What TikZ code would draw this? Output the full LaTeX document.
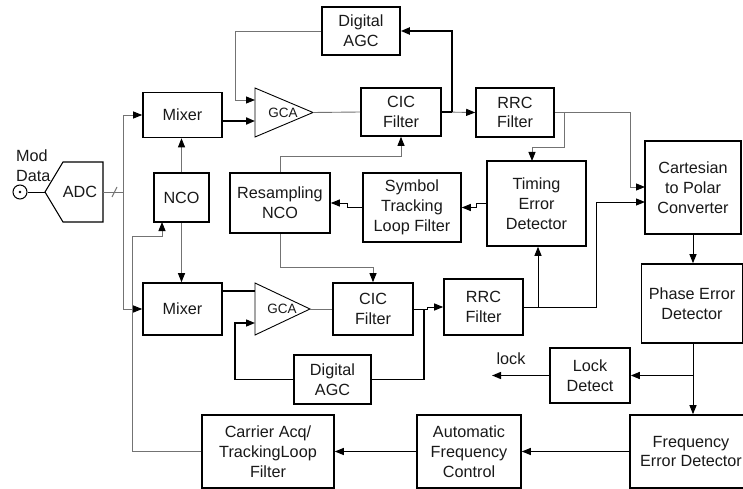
\documentclass[tikz,border=0pt]{standalone}
\usepackage{fontspec}
\setmainfont{Liberation Sans}
\usetikzlibrary{arrows.meta,calc}
\begin{document}
\begin{tikzpicture}[x=1pt,y=-1pt,
 box/.style={draw=black, line width=1.6pt, align=center, inner sep=1pt,
   font=\fontsize{16.2}{19.8}\selectfont, text=black!90},
 gl/.style={draw=black!55, line width=0.9pt},
 bl/.style={draw=black, line width=1pt},
 ml/.style={draw=black, line width=1.4pt},
 tl/.style={draw=black, line width=1.9pt},
 arr/.style={-{Triangle[length=9pt,width=7pt,color=black]}},
 lbl/.style={font=\fontsize{16.2}{19.8}\selectfont, inner sep=0pt, text=black!90},
 gca/.style={draw=black, line width=0.9pt}]
\useasboundingbox (0,0) rectangle (743,489);
\fill[white] (0,0) rectangle (743,489);

% ---------- source and ADC ----------
\node[draw=black, line width=1pt, circle, minimum size=14pt, inner sep=0pt] (src) at (20,192) {};
\fill (src.center) circle (1.3pt);
\node[lbl, align=left, anchor=west] (modl) at (16,166) {Mod\\Data};
\coordinate (adcIn) at (45,192);
\coordinate (adcOut) at (103,192);
\draw[black, line width=1.1pt] (adcIn) -- (63,162) -- (103,162) -- (103,222) -- (63,222) -- cycle;
\node[lbl] (adc) at (80,192) {ADC};
\coordinate (bus) at (123,192);

% ---------- boxes ----------
\node[box, minimum width=78pt, minimum height=48pt] (agcT) at (361,31) {Digital\\AGC};
\node[box, minimum width=79pt, minimum height=45pt] (mixT) at (182.5,115) {Mixer};
\node[box, minimum width=80pt, minimum height=48pt] (cicT) at (401,112) {CIC\\Filter};
\node[box, minimum width=78pt, minimum height=49pt] (rrcT) at (515,112.5) {RRC\\Filter};
\node[box, minimum width=55pt, minimum height=49pt] (nco) at (181.5,197.5) {NCO};
\node[box, minimum width=100pt, minimum height=60pt] (rsnco) at (280,203) {Resampling\\NCO};
\node[box, minimum width=98pt, minimum height=69pt] (stlf) at (412,207.5) {Symbol\\Tracking\\Loop Filter};
\node[box, minimum width=99pt, minimum height=85pt] (ted) at (536.5,203.5) {Timing\\Error\\Detector};
\node[box, minimum width=96pt, minimum height=93pt] (c2p) at (693,187.5) {Cartesian\\to Polar\\Converter};
\node[box, minimum width=79pt, minimum height=52pt] (mixB) at (182.5,309) {Mixer};
\node[box, minimum width=80pt, minimum height=52pt] (cicB) at (373,309) {CIC\\Filter};
\node[box, minimum width=79pt, minimum height=56pt] (rrcB) at (483.5,307) {RRC\\Filter};
\node[box, minimum width=77pt, minimum height=49pt] (agcB) at (332.5,379.5) {Digital\\AGC};
\node[box, minimum width=101pt, minimum height=79pt] (ped) at (692,303.5) {Phase Error\\Detector};
\node[box, minimum width=80pt, minimum height=55pt] (lock) at (590,375.5) {Lock\\Detect};
\node[box, minimum width=122pt, minimum height=73pt] (fed) at (691,451.5) {Frequency\\Error Detector};
\node[box, minimum width=104pt, minimum height=73pt] (afc) at (469,451.5) {Automatic\\Frequency\\Control};
\node[box, minimum width=132pt, minimum height=73pt] (car) at (268,451.5) {Carrier Acq/\\TrackingLoop\\Filter};

% ---------- GCA triangles ----------
\coordinate (gTa) at (255,100);
\coordinate (gTb) at (255,121);
\coordinate (gTo) at (313,112.5);
\draw[gca] (255,88) -- (gTo) -- (255,137) -- cycle;
\node[lbl, font=\fontsize{13.5}{15}\selectfont] (gcaT) at (283,113) {GCA};
\coordinate (gBa) at (255,291);
\coordinate (gBb) at (255,323);
\coordinate (gBo) at (310,309);
\draw[gca] (255,283) -- (gBo) -- (255,335) -- cycle;
\node[lbl, font=\fontsize{13.5}{15}\selectfont] (gcaB) at (282,309) {GCA};

% ---------- connectors ----------
\draw[bl] (src.east) -- (adcIn);
\draw[gl] (adcOut) -- (bus);
\draw[gl] (112,197) -- (117,187);
\draw[gl,arr] (bus) |- (mixT.west);
\draw[gl,arr] (bus) |- (mixB.west);
\draw[gl,arr] (nco.north) -- (nco.north |- mixT.south);
\draw[gl,arr] (nco.south) -- (nco.south |- mixB.north);

% top branch
\draw[tl,arr] (mixT.east |- gTb) -- (gTb);
\draw[gl,arr] (agcT.west) -| ($(gTa)+(-20,0)$) -- (gTa);
\draw[gl] (gTo) -- (cicT.west);
\coordinate (jT) at (452,112);
\draw[gl,arr] (cicT.east) -- (rrcT.west);
\draw[tl] (cicT.east) -- (jT);
\draw[tl,arr] (jT) |- (agcT.east);
\coordinate (c2pA) at (645,187);
\coordinate (c2pB) at (645,202);
\draw[gl,arr] (rrcT.east) -| ($(c2pA)+(-15,0)$) -- (c2pA);
\coordinate (jR) at (564,112.5);
\coordinate (tedN) at (532,161);
\draw[gl,arr] (jR) |- ($(tedN)+(0,-14)$) -- (tedN);

% symbol tracking loop
\draw[bl,arr] (ted.west) -- ++(-10,0) |- (stlf.east);
\draw[bl,arr] (stlf.west) -- ++(-15,0) |- (rsnco.east);
\draw[gl,arr] (rsnco.north) -- ++(0,-16) -| (cicT.south);
\draw[gl,arr] (rsnco.south) -- ++(0,34) -| (cicB.north);

% bottom branch
\draw[tl] (mixB.east |- gBa) -- (gBa);
\draw[gl] (gBo) -- (cicB.west);
\draw[bl,arr] (cicB.east) -- ++(14,0) |- (rrcB.west);
\coordinate (jB) at (424,309);
\draw[ml] (jB) |- (agcB.east);
\draw[ml,arr] (agcB.west) -| ($(gBb)+(-20,0)$) -- (gBb);
\draw[bl,arr] (rrcB.east) -| ($(c2pB)+(-49,0)$) -- (c2pB);
\coordinate (jR2) at (538,307);
\draw[bl,arr] (jR2) -- (jR2 |- ted.south);

% carrier loop
\draw[bl,arr] (c2p.south) -- (c2p.south |- ped.north);
\draw[bl,arr] (c2p.south |- ped.south) -- (c2p.south |- fed.north);
\coordinate (jP) at (693,375.5);
\draw[ml,arr] (jP) -- (lock.east);
\coordinate (lockout) at (492,375.5);
\draw[ml,arr] (lock.west) -- (lockout);
\node[lbl] (lockl) at (511,359) {lock};
\draw[bl,arr] (fed.west) -- (afc.east);
\draw[bl,arr] (afc.west) -- (car.east);
\coordinate (ncoIn) at (162,222);
\draw[gl,arr] (car.west) -- ++(-69,0) |- ($(ncoIn)+(0,14)$) -- (ncoIn);
\end{tikzpicture}
\end{document}
